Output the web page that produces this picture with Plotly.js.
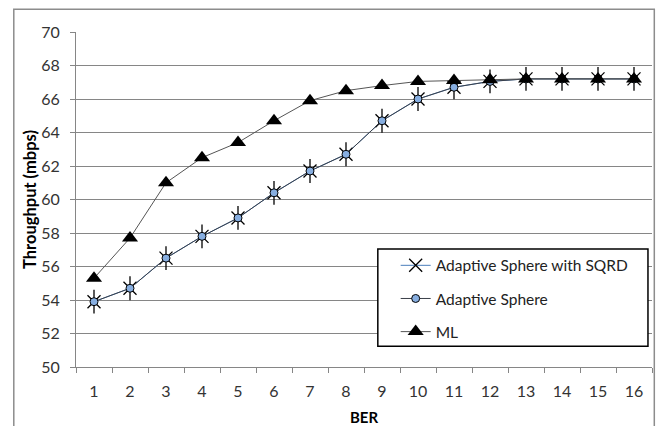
<!DOCTYPE html>
<html>
<head>
<meta charset="utf-8">
<script src="https://cdn.plot.ly/plotly-3.0.1.min.js"></script>
<style>html,body{margin:0;padding:0;background:#fff;}#chart{width:657px;height:426px;}</style>
</head>
<body>
<div id="chart"></div>
<script>
const categories = ['1','2','3','4','5','6','7','8','9','10','11','12','13','14','15','16'];
const sqrdValues = [53.9,54.7,56.5,57.8,58.9,60.4,61.7,62.7,64.7,66.0,66.7,67.05,67.2,67.2,67.2,67.2];
const adaptiveValues = [53.9,54.7,56.5,57.8,58.9,60.4,61.7,62.7,64.7,66.0,66.7,67.05,67.2,67.2,67.2,67.2];
const mlValues = [55.3,57.7,61.0,62.5,63.4,64.7,65.9,66.5,66.8,67.05,67.1,67.15,67.2,67.2,67.2,67.2];
const yTicks = [50,52,54,56,58,60,62,64,66,68,70];
const seriesNames = ['Adaptive Sphere with SQRD','Adaptive Sphere','ML'];

const font = "Lato, 'Open Sans', sans-serif";

const traces = [
  {x: categories, y: sqrdValues, name: seriesNames[0], mode: 'lines+markers', legendgroup: 'a',
   line: {color: '#4A7EBB', width: 1},
   marker: {symbol: 'x-thin-open', size: 13, color: '#000', line: {color: '#000', width: 1.3}}},
  {x: categories, y: sqrdValues, name: seriesNames[0], mode: 'markers', legendgroup: 'a', showlegend: false,
   marker: {symbol: 'line-ns-open', size: 17, color: '#000', line: {color: '#000', width: 1.3}}},
  {x: categories, y: adaptiveValues, name: seriesNames[1], mode: 'lines+markers', legendgroup: 'b',
   line: {color: '#3a3f48', width: 1},
   marker: {symbol: 'circle', size: 8, color: '#87AEE0', line: {color: '#000', width: 1}}},
  {x: categories, y: mlValues, name: seriesNames[2], mode: 'lines+markers', legendgroup: 'c',
   line: {color: '#555', width: 1},
   marker: {symbol: 'triangle-up', size: 14, color: '#000', line: {color: '#000', width: 0}}}
];

const layout = {
  width: 657, height: 426,
  margin: {l: 76, r: 5, t: 32, b: 59},
  paper_bgcolor: '#fff', plot_bgcolor: '#fff',
  font: {family: font, size: 15, color: '#222'},
  showlegend: true,
  legend: {x: 0.555, y: 0.353, xanchor: 'left', yanchor: 'top', bgcolor: 'rgba(0,0,0,0)',
           borderwidth: 0, traceorder: 'grouped', tracegroupgap: 10, font: {family: font, size: 15.5, color: '#222'}},
  xaxis: {type: 'category', range: [-0.5, 15.5], tickson: 'boundaries', ticks: 'outside', ticklen: 5,
          tickcolor: '#868686', showline: true, linecolor: '#868686', linewidth: 1, showgrid: false,
          zeroline: false, ticklabelstandoff: 10, tickfont: {family: font, size: 16, color: '#333'},
          title: {text: '<b>BER</b>', font: {family: font, size: 15, color: '#000'}, standoff: 13}},
  yaxis: {range: [50, 70], tickvals: yTicks, ticks: 'outside', ticklen: 5, tickcolor: '#868686',
          showline: true, linecolor: '#868686', linewidth: 1, showgrid: true, gridcolor: '#868686', gridwidth: 1,
          zeroline: false, ticklabelstandoff: 7, tickfont: {family: font, size: 16, color: '#333'},
          title: {text: '<b>Throughput (mbps)</b>', font: {family: font, size: 16.5, color: '#000'}, standoff: 0}},
  shapes: [
    {type: 'rect', xref: 'paper', yref: 'paper', x0: -0.108, x1: 1.004, y0: -0.3, y1: 1.068,
     line: {color: '#8c8c8c', width: 1.5}, layer: 'below'},
    {type: 'rect', xref: 'paper', yref: 'paper', x0: 0.524, x1: 0.993, y0: 0.062, y1: 0.352,
     fillcolor: '#fff', line: {color: '#000', width: 1.5}, layer: 'above'}
  ]
};

Plotly.newPlot('chart', traces, layout, {displayModeBar: false, staticPlot: true});
</script>
</body>
</html>
